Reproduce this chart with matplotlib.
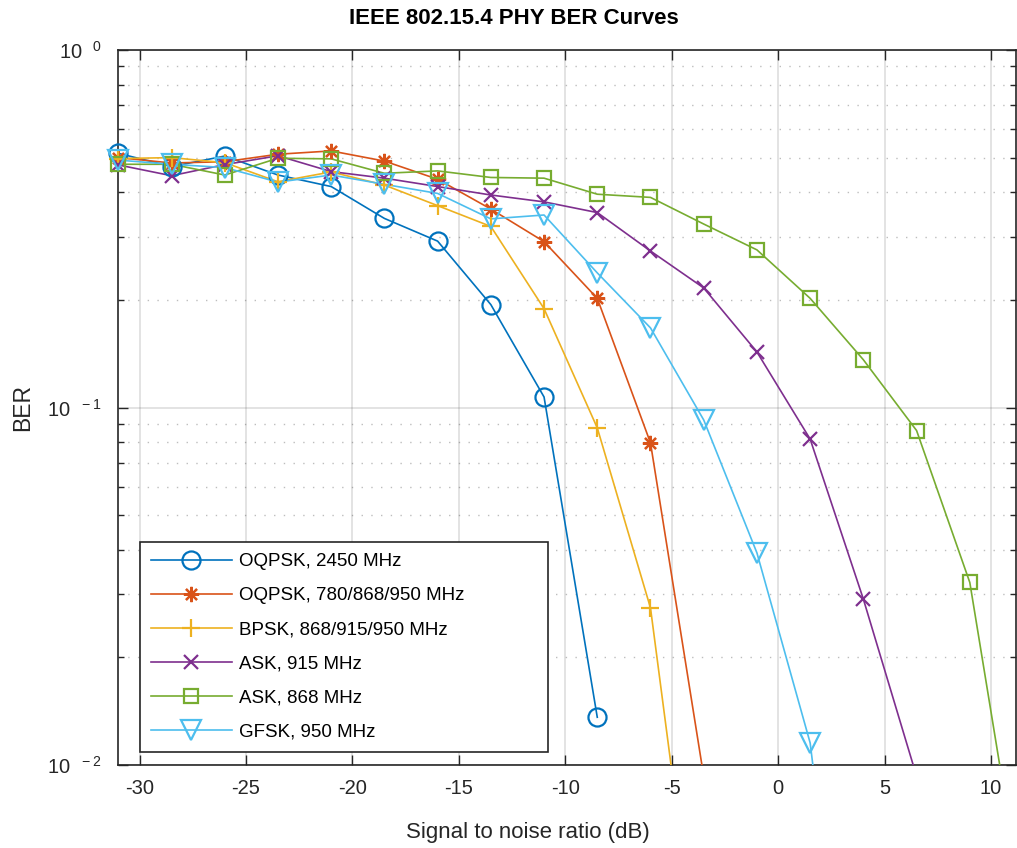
import matplotlib
matplotlib.use('Agg')
import matplotlib.pyplot as plt
from matplotlib.lines import Line2D
from matplotlib.ticker import LogLocator, NullFormatter, FixedLocator
import numpy as np

plt.rcParams['font.family'] = ['Liberation Sans', 'DejaVu Sans']
plt.rcParams['mathtext.fontset'] = 'custom'
plt.rcParams['mathtext.rm'] = 'Liberation Sans'
plt.rcParams['mathtext.default'] = 'regular'
plt.rcParams['axes.unicode_minus'] = False

# SNR grid (dB), 2.5 dB steps
snr = [-31.0, -28.5, -26.0, -23.5, -21.0, -18.5, -16.0, -13.5, -11.0,
       -8.5, -6.0, -3.5, -1.0, 1.5, 4.0, 6.5, 9.0, 11.5]

# BER per PHY (None = not plotted / zero)
ber_oqpsk_2450 = [0.514, 0.472, 0.505, 0.447, 0.415, 0.338, 0.292, 0.194, 0.107,
                  0.0136, None, None, None, None, None, None, None, None]
ber_oqpsk_780 = [0.500, 0.483, 0.487, 0.511, 0.522, 0.489, 0.435, 0.359, 0.291,
                 0.202, 0.0796, 0.0093, None, None, None, None, None, None]
ber_bpsk = [0.497, 0.500, 0.484, 0.428, 0.456, 0.419, 0.367, 0.321, 0.189,
            0.0877, 0.0275, 0.0020, None, None, None, None, None, None]
ber_ask_915 = [0.477, 0.445, 0.478, 0.506, 0.457, 0.438, 0.415, 0.393, 0.376,
               0.351, 0.274, 0.216, 0.143, 0.0816, 0.0291, 0.0093, None, None]
ber_ask_868 = [0.479, 0.479, 0.447, 0.498, 0.496, 0.452, 0.459, 0.440, 0.438,
               0.395, 0.387, 0.326, 0.276, 0.202, 0.136, 0.0862, 0.0324, 0.0040]
ber_gfsk = [0.492, 0.479, 0.469, 0.427, 0.447, 0.421, 0.397, 0.337, 0.3455,
            0.238, 0.167, 0.0923, 0.0392, 0.01153, 0.0007, None, None, None]

labels = ['OQPSK, 2450 MHz', 'OQPSK, 780/868/950 MHz', 'BPSK, 868/915/950 MHz',
          'ASK, 915 MHz', 'ASK, 868 MHz', 'GFSK, 950 MHz']
series = [ber_oqpsk_2450, ber_oqpsk_780, ber_bpsk, ber_ask_915, ber_ask_868, ber_gfsk]
colors = ['#0072BD', '#D95319', '#EDB120', '#7E2F8E', '#77AC30', '#4DBEEE']
markers = ['o', (8, 2, 0), '+', 'x', 's', 'v']
msizes = [13, 11, 12.5, 9.5, 10, 14]

fig = plt.figure(figsize=(10.17, 8.48), dpi=100)
ax = fig.add_axes([118.3 / 1017, 1 - 765 / 848, (1016 - 118.3) / 1017, (765 - 50) / 848])

handles = []
for ys, lab, c, m, ms in zip(series, labels, colors, markers, msizes):
    x = np.array([s for s, v in zip(snr, ys) if v is not None])
    y = np.array([v for v in ys if v is not None])
    ax.plot(x, y, color=c, lw=1.2, zorder=3)
    keep = y >= 1e-2
    ax.plot(x[keep], y[keep], ls='none', marker=m, ms=ms, mec=c, mfc='none',
            mew=1.6, clip_on=False, zorder=4)
    handles.append(Line2D([], [], color=c, lw=1.2, marker=m, ms=ms, mec=c,
                          mfc='none', mew=1.6, label=lab))

ax.set_yscale('log')
ax.set_xlim(-31.0, 11.17)
ax.set_ylim(1e-2, 1)

ax.xaxis.set_major_locator(FixedLocator([-30, -25, -20, -15, -10, -5, 0, 5, 10]))
ax.set_xticklabels(['-30', '-25', '-20', '-15', '-10', '-5', '0', '5', '10'])
ax.set_yticks([1e-2, 1e-1, 1])
ax.set_yticklabels([r'$10^{\enspace\,-2}$', r'$10^{\enspace\,-1}$', r'$10^{\enspace\;0}$'])
ax.yaxis.set_minor_locator(LogLocator(base=10, subs=np.arange(2, 10)))
ax.yaxis.set_minor_formatter(NullFormatter())

dark = '#262626'
ax.tick_params(which='both', direction='in', top=True, right=True, colors=dark,
               labelcolor=dark, labelsize=14.5, width=1.0)
ax.tick_params(which='major', length=7)
ax.tick_params(which='minor', length=4)
ax.tick_params(axis='x', pad=10)
ax.tick_params(axis='y', pad=12)
for sp in ax.spines.values():
    sp.set_color(dark)
    sp.set_linewidth(1.2)

ax.grid(True, which='major', color='#262626', alpha=0.15, lw=1.2)
ax.grid(True, which='minor', axis='y', color='#262626', alpha=0.3, lw=1.0,
        ls=(0, (1, 6)))
ax.set_axisbelow(True)

ax.set_xlabel('Signal to noise ratio (dB)', fontsize=16, color=dark)
ax.xaxis.set_label_coords(0.4564, -0.08)
ax.set_ylabel('BER', fontsize=16.5, color=dark, labelpad=9)
fig.text(514 / 1017, 1 - 19 / 848, 'IEEE 802.15.4 PHY BER Curves', fontsize=16,
         fontweight='bold', color='black', ha='center', va='center')

leg = ax.legend(handles=handles, loc='lower left', mode='expand',
                bbox_to_anchor=(0.0241, 0.0186, 0.4544, 0.2961), borderaxespad=0,
                fontsize=13.5, handlelength=4.3, handletextpad=0.4, labelspacing=0.9,
                borderpad=0.6, fancybox=False, framealpha=1, edgecolor=dark)
leg.get_frame().set_linewidth(1.2)

fig.savefig('out.png', dpi=100)
